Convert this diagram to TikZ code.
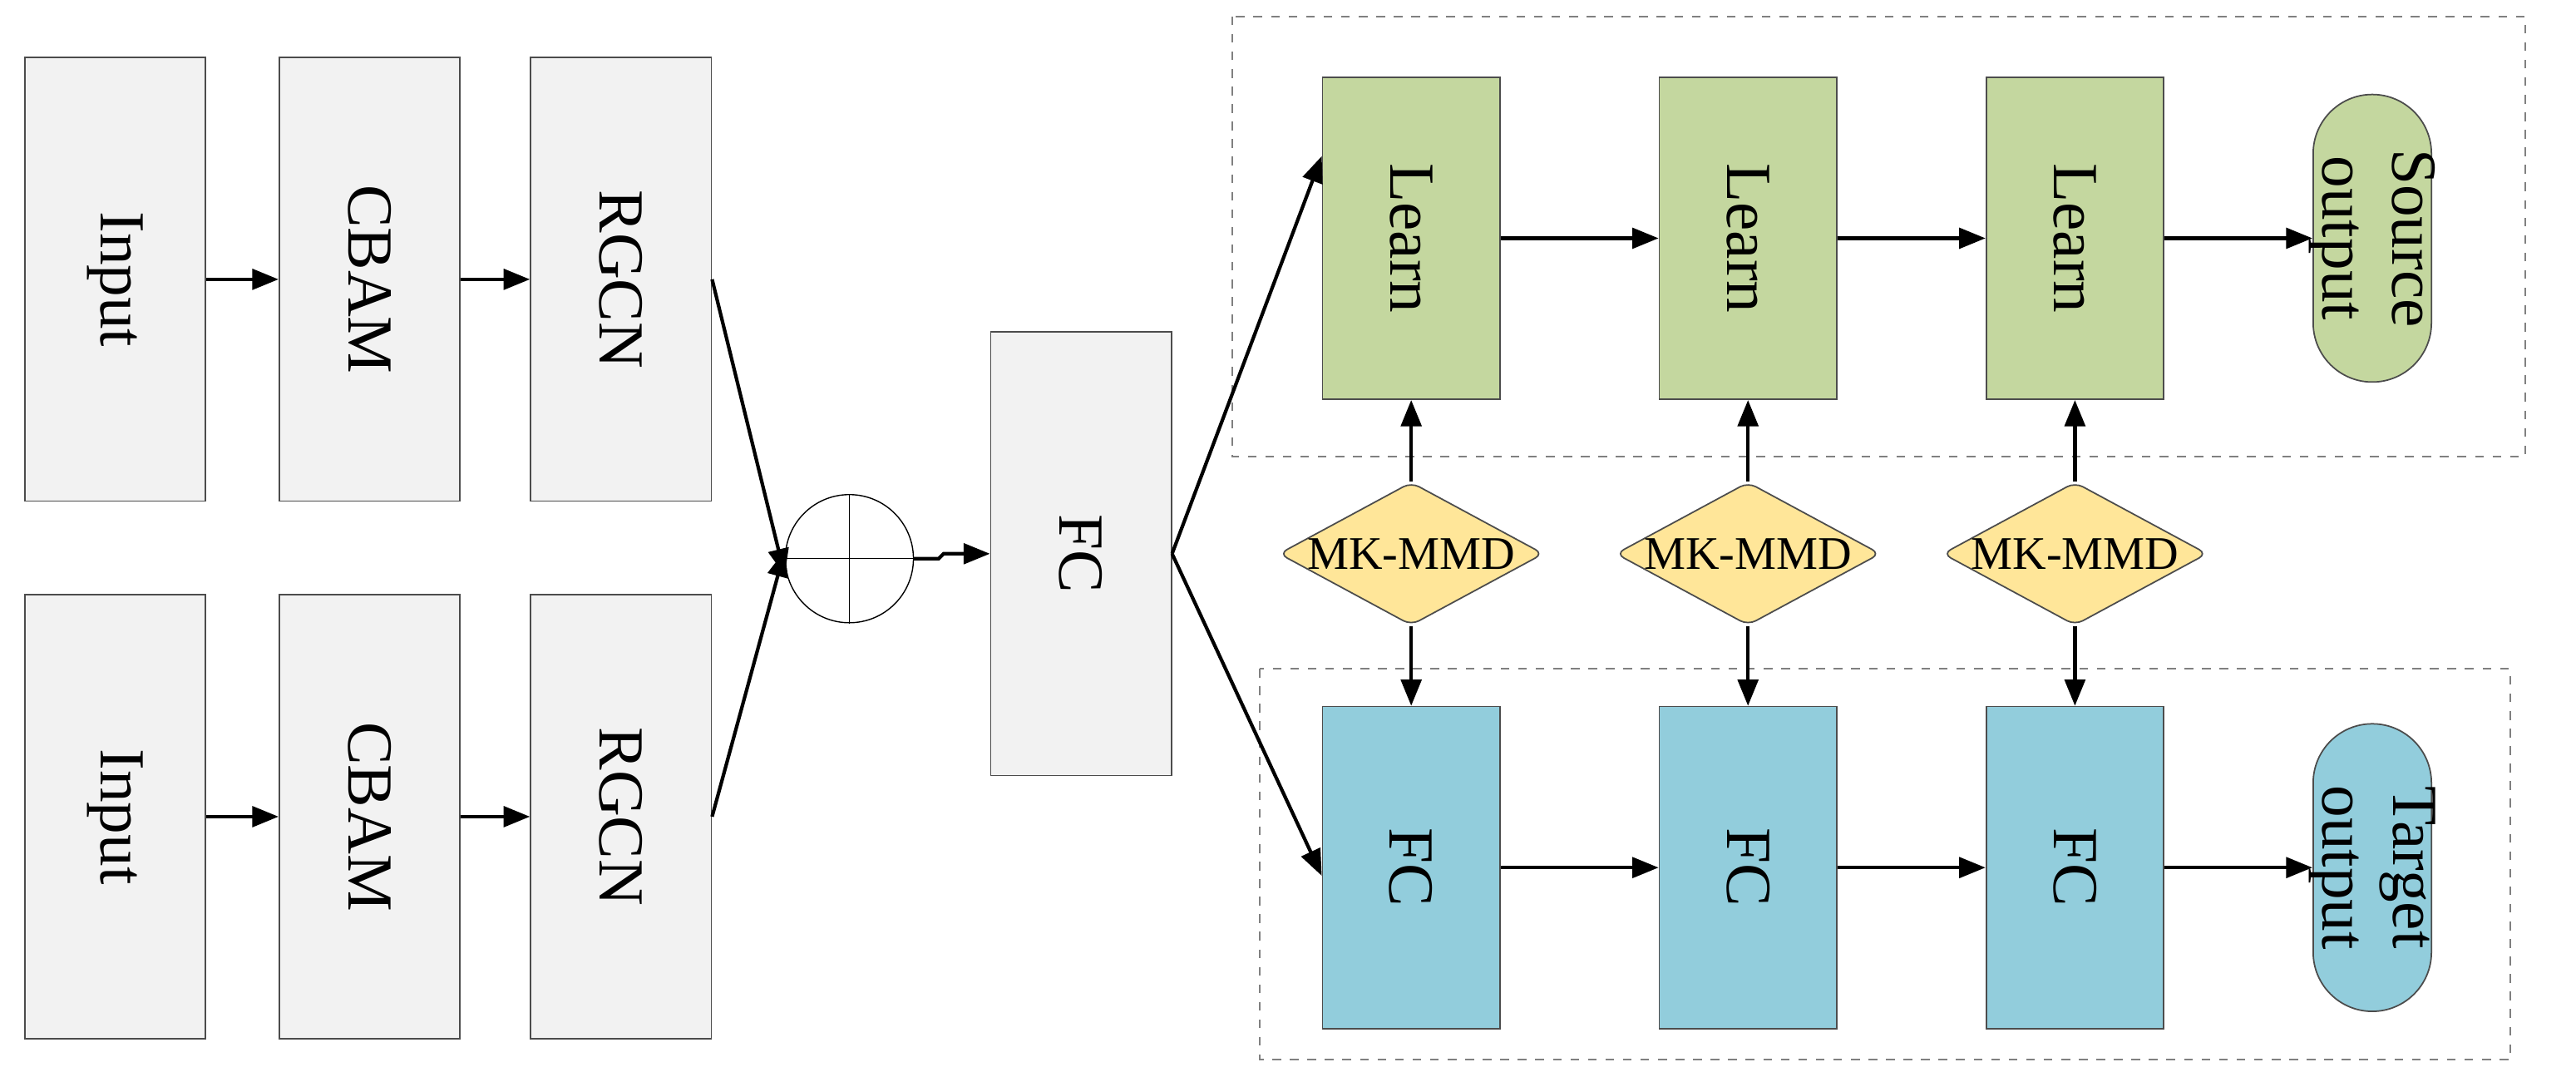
\documentclass[tikz,border=0pt]{standalone}
\usepackage{fontspec}
\setmainfont{Liberation Serif}
\usetikzlibrary{shapes.geometric,arrows.meta}
\begin{document}
\begin{tikzpicture}[x=0.01976cm,y=-0.01976cm,
 box/.style={draw=black!70,line width=0.5pt,minimum width=110*0.01976cm,minimum height=270*0.01976cm,fill=#1,inner sep=0pt},
 gbox/.style={box=gray!10},
 rt/.style={rotate=-90,font=\fontsize{22}{24}\selectfont},
 cbox/.style={draw=black!70,line width=0.5pt,minimum width=108*0.01976cm,minimum height=196*0.01976cm,fill=#1,inner sep=0pt},
 pill/.style={draw=black!70,line width=0.5pt,rounded corners=36*0.01976cm,minimum width=72*0.01976cm,minimum height=175*0.01976cm,fill=#1,inner sep=0pt},
 dia/.style={diamond,aspect=1.85,draw=black!70,line width=0.5pt,inner sep=0pt,minimum width=148*0.01976cm,minimum height=80*0.01976cm,font=\fontsize{16}{18}\selectfont,rounded corners=3pt},
 arr/.style={-{Triangle[length=9pt,width=7pt]},line width=1.2pt},
 dsh/.style={draw=gray,dashed,line width=0.6pt}]
\useasboundingbox (0,0) rectangle (1568,655);
\definecolor{lg}{HTML}{C4D79F}\definecolor{lb}{HTML}{92CDDC}\definecolor{ly}{HTML}{FFE699}
\draw[dsh] (750,10) rectangle (1537,278);
\draw[dsh] (767,407) rectangle (1528,645);
\foreach \n/\y in {a/170,b/497}{
 \node[gbox] (in\n) at (70,\y) {}; \node[rt] at (in\n) {Input};
 \node[gbox] (cb\n) at (225,\y) {}; \node[rt] at (cb\n) {CBAM};
 \node[gbox] (rg\n) at (378,\y) {}; \node[rt] at (rg\n) {RGCN};
 \draw[arr] (in\n) -- (cb\n); \draw[arr] (cb\n) -- (rg\n);}
\node[circle,draw,minimum size=78*0.01976cm,inner sep=0pt] (c) at (517,340) {};
\draw (c.north) -- (c.south) (c.west) -- (c.east);
\draw[arr] (rga.east) -- ([yshift=-10*0.01976cm]c.west);
\draw[arr] (rgb.east) -- ([yshift=5*0.01976cm]c.west);
\node[gbox] (fc) at (658,337) {}; \node[rt] at (fc) {FC};
\draw[arr] (c.east) -- ++(15,0) -- ++(3,-3) -- (fc.west);
\foreach \i/\x in {1/859,2/1064,3/1263}{
 \node[cbox=lg] (l\i) at (\x,145) {}; \node[rt] at (l\i) {Learn};
 \node[cbox=lb] (f\i) at (\x,528) {}; \node[rt] at (f\i) {FC};
 \node[dia,fill=ly] (m\i) at (\x,337) {MK-MMD};
 \draw[arr] (m\i) -- (l\i); \draw[arr] (m\i) -- (f\i);}
\node[pill=lg] (so) at (1444,145) {}; \node[rt,align=center] at (so) {Source\\output};
\node[pill=lb] (to) at (1444,528) {}; \node[rt,align=center] at (to) {Target\\output};
\draw[arr] (l1) -- (l2); \draw[arr] (l2) -- (l3); \draw[arr] (l3) -- (so);
\draw[arr] (f1) -- (f2); \draw[arr] (f2) -- (f3); \draw[arr] (f3) -- (to);
\draw[arr] (fc.east) -- ([yshift=50*0.01976cm]l1.west);
\draw[arr] (fc.east) -- ([yshift=-5*0.01976cm]f1.west);
\end{tikzpicture}
\end{document}
